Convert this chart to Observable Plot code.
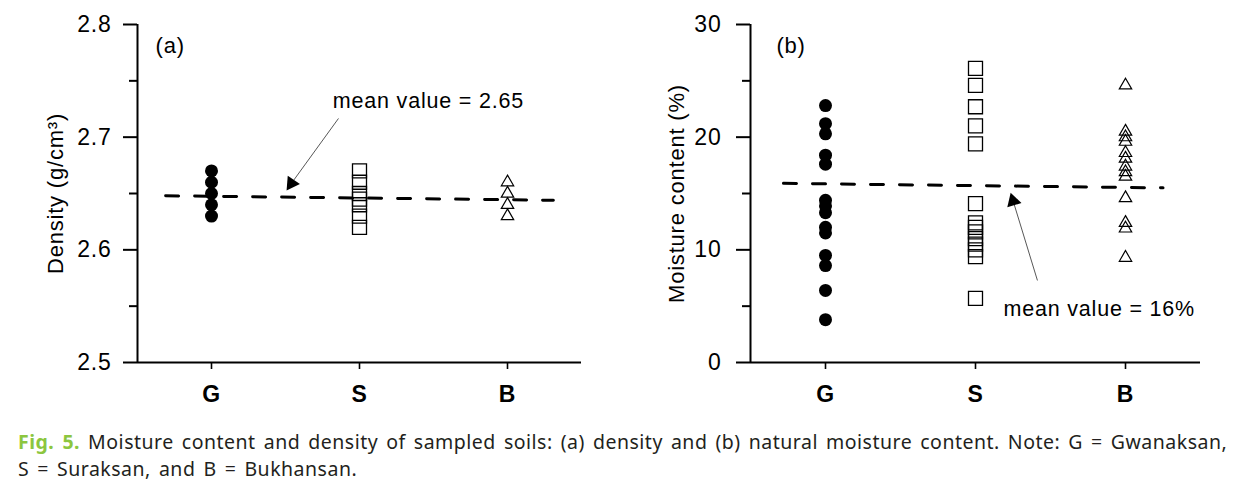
<!DOCTYPE html>
<html><head><meta charset="utf-8">
<script src="https://cdn.jsdelivr.net/npm/d3@7"></script>
<script src="https://cdn.jsdelivr.net/npm/@observablehq/plot@0.6"></script>
<style>
body{margin:0;background:#fff;}
#charts{display:flex;width:1237px;}
#charts svg text{letter-spacing:0.8px}
#caption{font-family:"Noto Sans","Noto Sans CJK KR",sans-serif;font-size:19.5px;color:#231f20;padding:8px 0 0 18px;white-space:nowrap;letter-spacing:0.5px;word-spacing:2.5px}
#caption div{height:27px;line-height:27px;overflow:visible}
#caption .fig{color:#8cc63f;font-weight:700}
</style></head><body>
<div id="charts"></div>
<div id="caption"><div><span class="fig">Fig. 5.</span> Moisture content and density of sampled soils: (a) density and (b) natural moisture content. Note: G = Gwanaksan,</div><div>S = Suraksan, and B = Bukhansan.</div></div>
<script>
// ---- data ----
const categories = ["G", "S", "B"];
const densityTicks = [2.5, 2.6, 2.7, 2.8];
const densityMinorTicks = [2.55, 2.65, 2.75];
const moistureTicks = [0, 10, 20, 30];
const moistureMinorTicks = [5, 15, 25];

const densityG = [2.63, 2.64, 2.65, 2.66, 2.67];
const densityS = [2.62, 2.63, 2.64, 2.645, 2.65, 2.66, 2.67];
const densityB = [2.63, 2.64, 2.65, 2.66];
const densityMeanX = [0.69, 3.31];
const densityMeanY = [2.648, 2.644];

const moistureG = [22.8, 21.2, 20.3, 18.4, 17.6, 14.4, 13.9, 13.3, 12.0, 11.5, 9.5, 8.6, 6.4, 3.8];
const moistureS = [26.1, 24.6, 22.7, 21.0, 19.4, 14.1, 12.4, 12.0, 11.6, 11.0, 10.5, 10.0, 9.4, 5.7];
const moistureB = [24.6, 20.5, 20.0, 19.6, 18.6, 18.1, 17.4, 16.9, 16.5, 14.6, 12.4, 11.9, 9.3];
const moistureMeanX = [0.72, 3.25];
const moistureMeanY = [15.9, 15.5];

// annotations (data coordinates)
const noteA = {text: "mean value = 2.65", x: 1.82, y: 2.7316};
const arrowA = {x1: 1.858, y1: 2.7166, x2: 1.54, y2: 2.659, angle: 214.6};
const noteB = {text: "mean value = 16%", x: 2.187, y: 4.7};
const arrowB = {x1: 2.413, y1: 7.28, x2: 2.251, y2: 14.33, angle: 343};

const font = "'Liberation Sans', Arial, sans-serif";

function panel(opts) {
  const {width, marginLeft, marginRight, yDomain, ticks, minor, fmt, tickPadding,
         G, S, B, meanX, meanY, yLabel, labelDx, tag, tagX, tagY, note, arrow} = opts;
  const mean = meanX.map((x, i) => ({x, y: meanY[i]}));
  return Plot.plot({
    width, height: 420,
    marginLeft, marginRight, marginTop: 24, marginBottom: 58,
    style: {fontFamily: font, fontSize: "22px", color: "black", background: "white"},
    x: {domain: [0.5, 3.5]},
    y: {domain: yDomain},
    marks: [
      Plot.axisY(ticks, {tickSize: 14, tickPadding, tickFormat: fmt, fontSize: 23, strokeWidth: 2, label: null}),
      Plot.axisY(minor, {tickSize: 8, tickFormat: () => "", strokeWidth: 2, label: null}),
      Plot.axisX([1, 2, 3], {tickSize: 7, tickPadding: 16, tickFormat: d => categories[d - 1], fontSize: 23, fontWeight: "bold", strokeWidth: 1.6, label: null}),
      Plot.ruleY([yDomain[0]], {strokeWidth: 2}),
      Plot.ruleX([0.5], {strokeWidth: 2}),
      Plot.text([yLabel], {frameAnchor: "left", textAnchor: "middle", lineAnchor: "middle", dx: labelDx, rotate: -90, fontSize: 22}),
      Plot.text([tag], {x: [tagX], y: [tagY], textAnchor: "start", fontSize: 22}),
      Plot.line(mean, {x: "x", y: "y", stroke: "black", strokeWidth: 3, strokeDasharray: "13,16"}),
      Plot.dot(G, {x: G.map(() => 1), y: d => d, symbol: "circle", r: 6.5, fill: "black"}),
      Plot.dot(S, {x: S.map(() => 2), y: d => d, symbol: "square", r: 7.9, fill: "none", stroke: "black", strokeWidth: 1.3}),
      Plot.dot(B, {x: B.map(() => 3), y: d => d, symbol: "triangle", r: 4.6, fill: "none", stroke: "black", strokeWidth: 1.2}),
      Plot.link([arrow], {x1: "x1", y1: "y1", x2: "x2", y2: "y2", stroke: "#444", strokeWidth: 0.9}),
      Plot.dot([arrow], {x: "x2", y: "y2", symbol: "triangle", r: 5.5, fill: "black", rotate: arrow.angle}),
      Plot.text([note], {x: "x", y: "y", text: "text", textAnchor: "start", fontSize: 21.5})
    ]
  });
}

const charts = document.getElementById("charts");
charts.append(panel({
  width: 618, marginLeft: 137, marginRight: 37,
  yDomain: [2.5, 2.8], ticks: densityTicks, minor: densityMinorTicks, fmt: d => d.toFixed(1), tickPadding: 12,
  G: densityG, S: densityS, B: densityB, meanX: densityMeanX, meanY: densityMeanY,
  yLabel: "Density (g/cm³)", labelDx: -82, tag: "(a)", tagX: 0.622, tagY: 2.781,
  note: noteA, arrow: arrowA
}));
charts.append(panel({
  width: 619, marginLeft: 132, marginRight: 37,
  yDomain: [0, 30], ticks: moistureTicks, minor: moistureMinorTicks, fmt: d => String(d), tickPadding: 15,
  G: moistureG, S: moistureS, B: moistureB, meanX: moistureMeanX, meanY: moistureMeanY,
  yLabel: "Moisture content (%)", labelDx: -74, tag: "(b)", tagX: 0.673, tagY: 28.1,
  note: noteB, arrow: arrowB
}));
</script>
</body></html>
